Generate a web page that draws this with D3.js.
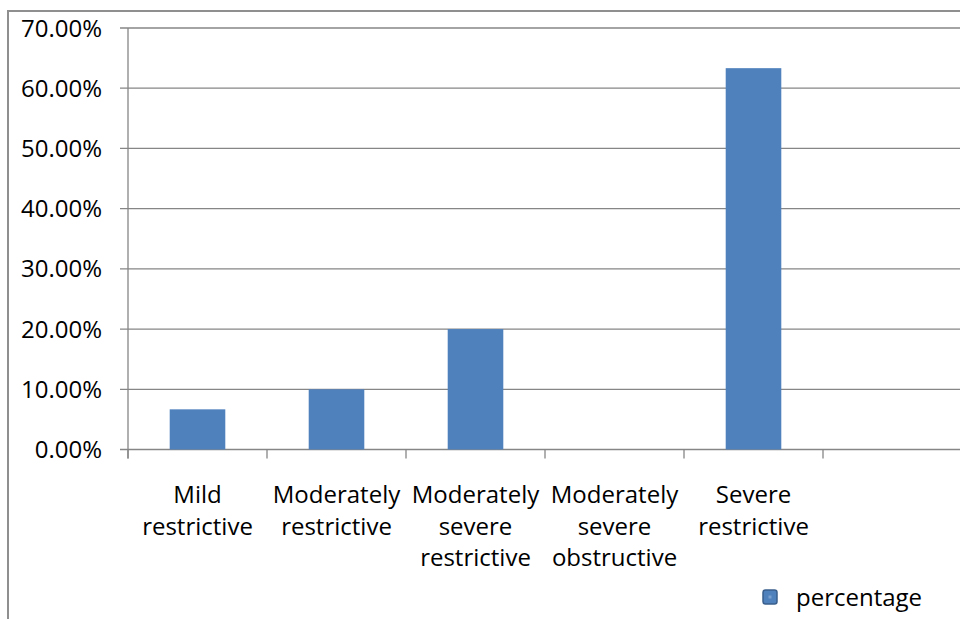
<!DOCTYPE html>
<html>
<head>
<meta charset="utf-8">
<script src="https://cdn.jsdelivr.net/npm/d3@7"></script>
<style>
  html, body { margin: 0; padding: 0; background: #fff; }
  svg { display: block; }
  text { font-family: "Open Sans", "Liberation Sans", sans-serif; fill: #000; }
</style>
</head>
<body>
<svg id="chart" width="960" height="619"></svg>
<script>
// ---- data ----
const categories = ["Mild restrictive", "Moderately restrictive", "Moderately severe restrictive", "Moderately severe obstructive", "Severe restrictive", ""];
const percentage = [6.67, 10.0, 20.0, 0, 63.33, null];
const yTicks = [0, 10, 20, 30, 40, 50, 60, 70];
const seriesName = "percentage";

// ---- layout ----
(function () {
const svg = d3.select("#chart");
const W = 960, H = 619;
const mLeft = 128, mRight = 962, mTop = 28, mBottom = 449.5;
const barColor = "#4f81bd";
const gridColor = "#868686";

// outer frame
svg.append("line").attr("x1", 8).attr("x2", W + 5).attr("y1", 11).attr("y2", 11)
  .attr("stroke", "#8f8f8f").attr("stroke-width", 2);
svg.append("line").attr("x1", 8).attr("x2", 8).attr("y1", 10).attr("y2", H + 5)
  .attr("stroke", "#8f8f8f").attr("stroke-width", 2);

const x = d3.scaleBand().domain(categories.map((d, i) => i)).range([mLeft, mRight])
  .paddingInner(0.6).paddingOuter(0.3);
const y = d3.scaleLinear().domain([0, 70]).range([mBottom, mTop]);

// gridlines + y ticks
const gy = svg.append("g");
yTicks.forEach(t => {
  gy.append("line").attr("x1", mLeft - 8).attr("x2", W).attr("y1", y(t)).attr("y2", y(t))
    .attr("stroke", gridColor).attr("stroke-width", 1.3);
  gy.append("text").attr("x", 102).attr("y", y(t)).attr("dy", 8.5)
    .attr("text-anchor", "end").attr("font-size", 24)
    .text(d3.format(".2f")(t) + "%");
});

// y axis line
svg.append("line").attr("x1", mLeft).attr("x2", mLeft).attr("y1", mTop).attr("y2", mBottom + 9)
  .attr("stroke", gridColor).attr("stroke-width", 1.3);

// x category boundary ticks
for (let i = 0; i <= categories.length; i++) {
  const bx = mLeft + i * x.step();
  svg.append("line").attr("x1", bx).attr("x2", bx).attr("y1", mBottom).attr("y2", mBottom + 9)
    .attr("stroke", gridColor).attr("stroke-width", 1.3);
}

// bars
svg.append("g").selectAll("rect")
  .data(percentage.map((v, i) => ({ v, i })).filter(d => d.v !== null && d.v > 0))
  .join("rect")
  .attr("x", d => x(d.i))
  .attr("width", x.bandwidth())
  .attr("y", d => y(d.v))
  .attr("height", d => y(0) - y(d.v))
  .attr("fill", barColor);

// x labels
const gx = svg.append("g");
categories.forEach((c, i) => {
  if (!c) return;
  const cx = x(i) + x.bandwidth() / 2;
  const words = c.split(" ");
  const t = gx.append("text").attr("text-anchor", "middle").attr("font-size", 24);
  words.forEach((w, k) => {
    t.append("tspan").attr("x", cx).attr("y", 503 + k * 31.5).text(w);
  });
});

// legend
const lg = svg.append("g");
lg.append("rect").attr("x", 763).attr("y", 590).attr("width", 14).attr("height", 14)
  .attr("rx", 2.5).attr("fill", barColor).attr("stroke", "#3a5f8c").attr("stroke-width", 1.5);
lg.append("rect").attr("x", 768.5).attr("y", 595.5).attr("width", 3).attr("height", 3)
  .attr("fill", "#7aa0d0");
lg.append("text").attr("x", 796).attr("y", 606).attr("font-size", 24).text(seriesName);
})();
</script>
</body>
</html>
